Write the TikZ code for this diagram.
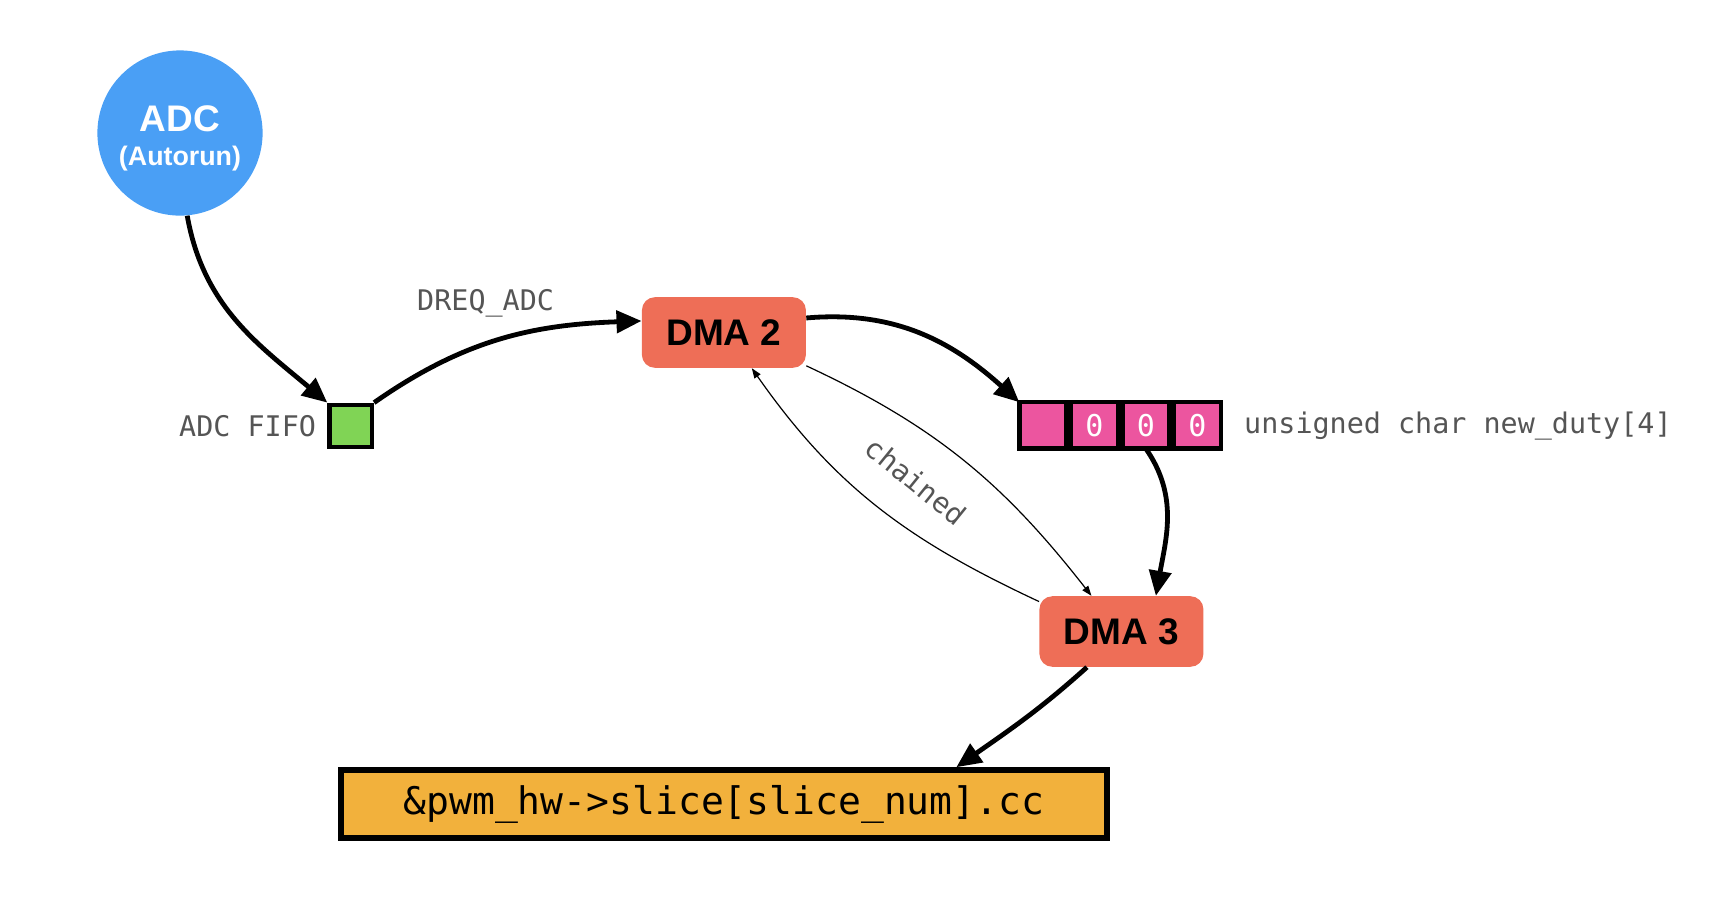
\documentclass[tikz,border=0pt]{standalone}
\usepackage{fontspec}
\setmainfont{Liberation Sans}
\setmonofont{DejaVu Sans Mono}
\usetikzlibrary{arrows.meta}
\definecolor{adcblue}{HTML}{4A9FF5}
\definecolor{fifogreen}{HTML}{80D455}
\definecolor{dmared}{HTML}{EE6E57}
\definecolor{arrpink}{HTML}{EC559F}
\definecolor{boxorange}{HTML}{F2B13C}
\definecolor{lblgray}{HTML}{555555}
\tikzset{
  thickarrow/.style={line width=2.4pt,-{Triangle[length=12.5pt,width=11pt]}},
  thinarrow/.style={line width=0.6pt,-{Triangle[length=5pt,width=3.6pt]}},
  dmabox/.style={fill=dmared,rounded corners=6.5pt,minimum width=82pt,minimum height=35.3pt,inner sep=0pt,font=\bfseries\fontsize{18.5}{20}\selectfont},
  cell/.style={draw=black,line width=2.2pt,fill=arrpink,minimum width=23.5pt,minimum height=23.2pt,inner sep=0pt,outer sep=0pt,text=white,font=\ttfamily\fontsize{15}{16}\selectfont},
  monolbl/.style={text=lblgray,font=\ttfamily\fontsize{14.2}{16}\selectfont,inner sep=0pt}
}
\begin{document}
\begin{tikzpicture}[x=0.5pt,y=0.5pt]
\useasboundingbox (0,0) rectangle (1730,-918);
% nodes
\node[circle,fill=adcblue,minimum size=82.6pt,inner sep=0pt,text=white,align=center] (adc) at (180,-133) {};
\node[text=white,align=center,inner sep=0pt] (adctxt) at (180,-138)
  {{\bfseries\fontsize{18.5}{20}\selectfont ADC}\\[5pt]{\bfseries\fontsize{13.4}{15}\selectfont (Autorun)}};
\node[draw=black,line width=2.2pt,fill=fifogreen,minimum size=21.2pt,inner sep=0pt] (fifo) at (350.7,-426) {};
\node[monolbl,anchor=east] (fifolbl) at (316.4,-426) {ADC FIFO};
\node[dmabox] (dma2) at (723.9,-332.5) {DMA 2};
\node[dmabox] (dma3) at (1121.4,-631.5) {DMA 3};
\node[cell] (c1) at (1042.8,-425.4) {};
\node[cell] (c2) at (1094.3,-425.4) {0};
\node[cell] (c3) at (1145.8,-425.4) {0};
\node[cell] (c4) at (1197.3,-425.4) {0};
\node[monolbl,anchor=west] (arrlbl) at (1243.8,-426) {unsigned char new\_duty[4]};
\node[draw=black,line width=2.8pt,fill=boxorange,minimum width=383pt,minimum height=34pt,inner sep=0pt,font=\ttfamily\fontsize{19}{21}\selectfont] (pwm) at (723.9,-804) {\&pwm\_hw->slice[slice\_num].cc};
\node[monolbl] (dreq) at (485.6,-303) {DREQ\_ADC};
\node[monolbl,rotate=-39] (chained) at (916,-481) {chained};
% connectors
\draw[thickarrow] (adc.-85) to[out=-80,in=140] (fifo.north west);
\draw[thickarrow] (fifo.north east) to[out=35,in=182] (dma2.172);
\draw[thickarrow] (dma2.10) to[out=5,in=138] (c1.north west);
\draw[thickarrow] (c3.south) to[out=-55,in=80] (dma3.46);
\draw[thinarrow] (dma2.-22) to[out=-25,in=128] (dma3.130);
\draw[thinarrow] (dma3.160) to[out=155,in=-55] (dma2.-52);
\draw[thickarrow] (dma3.-134) to[out=-138,in=35] (pwm.9.5);
\end{tikzpicture}
\end{document}
